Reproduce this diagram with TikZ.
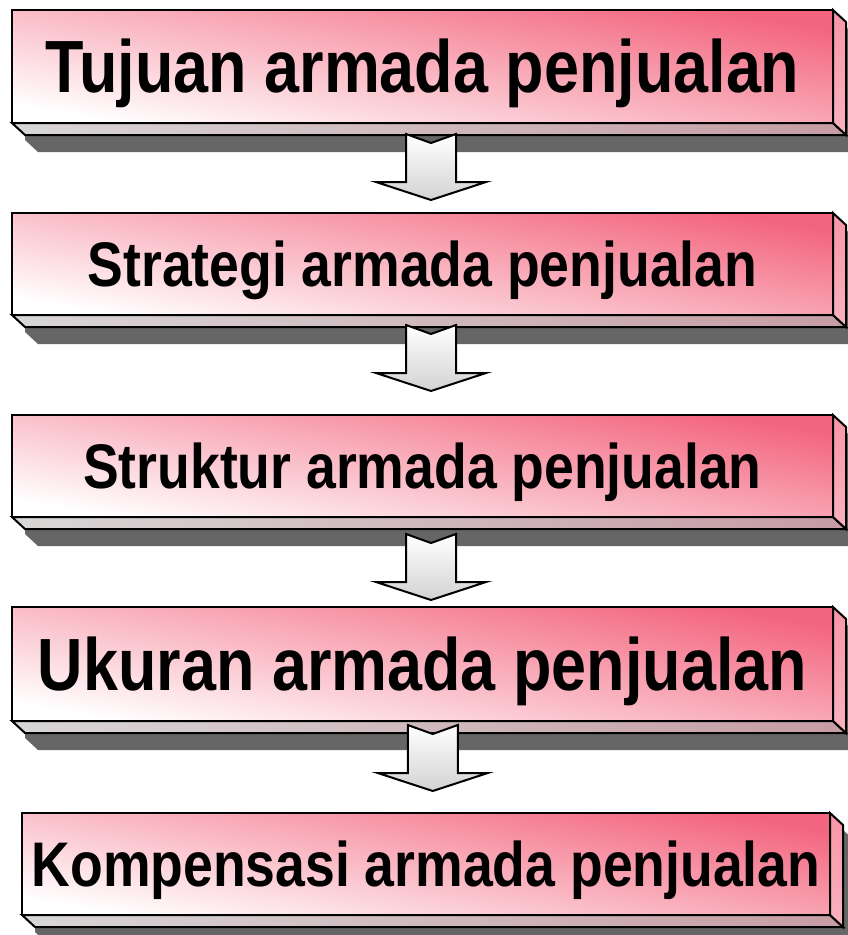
\documentclass[tikz,border=0pt]{standalone}
\usepackage{fontspec}
\newfontfamily\boxfont[FakeStretch=0.85]{Liberation Sans}
\usepackage{tikz}
\usetikzlibrary{positioning,calc,backgrounds}

\definecolor{pinkdeep}{RGB}{243,100,126}
\definecolor{pinkmid}{RGB}{249,178,190}
\definecolor{sidepink}{RGB}{248,150,168}
\definecolor{floorgray}{RGB}{216,214,214}
\definecolor{floorpink}{RGB}{198,156,164}
\definecolor{shadowgray}{RGB}{102,102,102}

\tikzset{
  block/.style={rectangle, draw, line width=2pt, inner sep=0pt, outer sep=0pt,
    minimum width=821pt, top color=pinkdeep, bottom color=white, middle color=pinkmid,
    shading angle=-10, text depth=0pt},
  bigtext/.style={font=\boxfont\bfseries\fontsize{74}{80}\selectfont, text height=52pt},
  smalltext/.style={font=\boxfont\bfseries\fontsize{63}{70}\selectfont, text height=45pt},
  flowarrow/.style={draw, line width=2pt, line join=miter, top color=white, bottom color=gray!35},
  boxedge/.style={draw, line width=2pt, line join=miter}
}

% arrow between two boxes, shifted down by #3
\newcommand{\flowarrow}[3]{%
  \coordinate (m) at ($(#1.south)!0.5!(#2.north)+(8.5,#3)$);
  \draw[flowarrow] ($(m)+(-25,-33)$) -- ++(25,9) -- ++(25,-9) -- ++(0,48) -- ++(30,0)
    -- ++(-55,18) -- ++(-55,-18) -- ++(30,0) -- cycle;
}

\begin{document}
\begin{tikzpicture}[x=1pt, y=-1pt]
    \useasboundingbox (0,0) rectangle (848,935);

    \node [block, bigtext, minimum height=113pt] (tujuan) at (422.5,66.5) {Tujuan armada penjualan};
    \node [block, smalltext, minimum height=102pt, below=90pt of tujuan] (strategi) {Strategi armada penjualan};
    \node [block, smalltext, minimum height=102pt, below=100pt of strategi] (struktur) {Struktur armada penjualan};
    \node [block, bigtext, minimum height=114pt, below=90pt of struktur] (ukuran) {Ukuran armada penjualan};
    \node [block, smalltext, minimum height=102pt, minimum width=808pt, below=92pt of ukuran, xshift=3.5pt] (kompensasi) {Kompensasi armada penjualan};

    % 3d faces and shadows
    \begin{pgfonlayer}{background}
    \foreach \b in {tujuan,strategi,struktur,ukuran,kompensasi}{
      \fill[shadowgray] ($(\b.north west)+(13,17)$) -- ($(\b.north east)+(13,17)$) -- ($(\b.north east)+(26,29)$)
        -- ($(\b.south east)+(26,29)$) -- ($(\b.south west)+(26,29)$) -- ($(\b.south west)+(13,17)$) -- cycle;
      \draw[boxedge, left color=floorgray, right color=floorpink] (\b.south west) -- (\b.south east) -- ++(13,12)
        -- ($(\b.south west)+(13,12)$) -- cycle;
      \draw[boxedge, top color=sidepink, bottom color=pinkmid] (\b.north east) -- ++(13,12)
        -- ($(\b.south east)+(13,12)$) -- (\b.south east) -- cycle;
    }
    \end{pgfonlayer}

    \flowarrow{tujuan}{strategi}{-1}
    \flowarrow{strategi}{struktur}{-7}
    \flowarrow{struktur}{ukuran}{5}
    \flowarrow{ukuran}{kompensasi}{-9}
\end{tikzpicture}
\end{document}
